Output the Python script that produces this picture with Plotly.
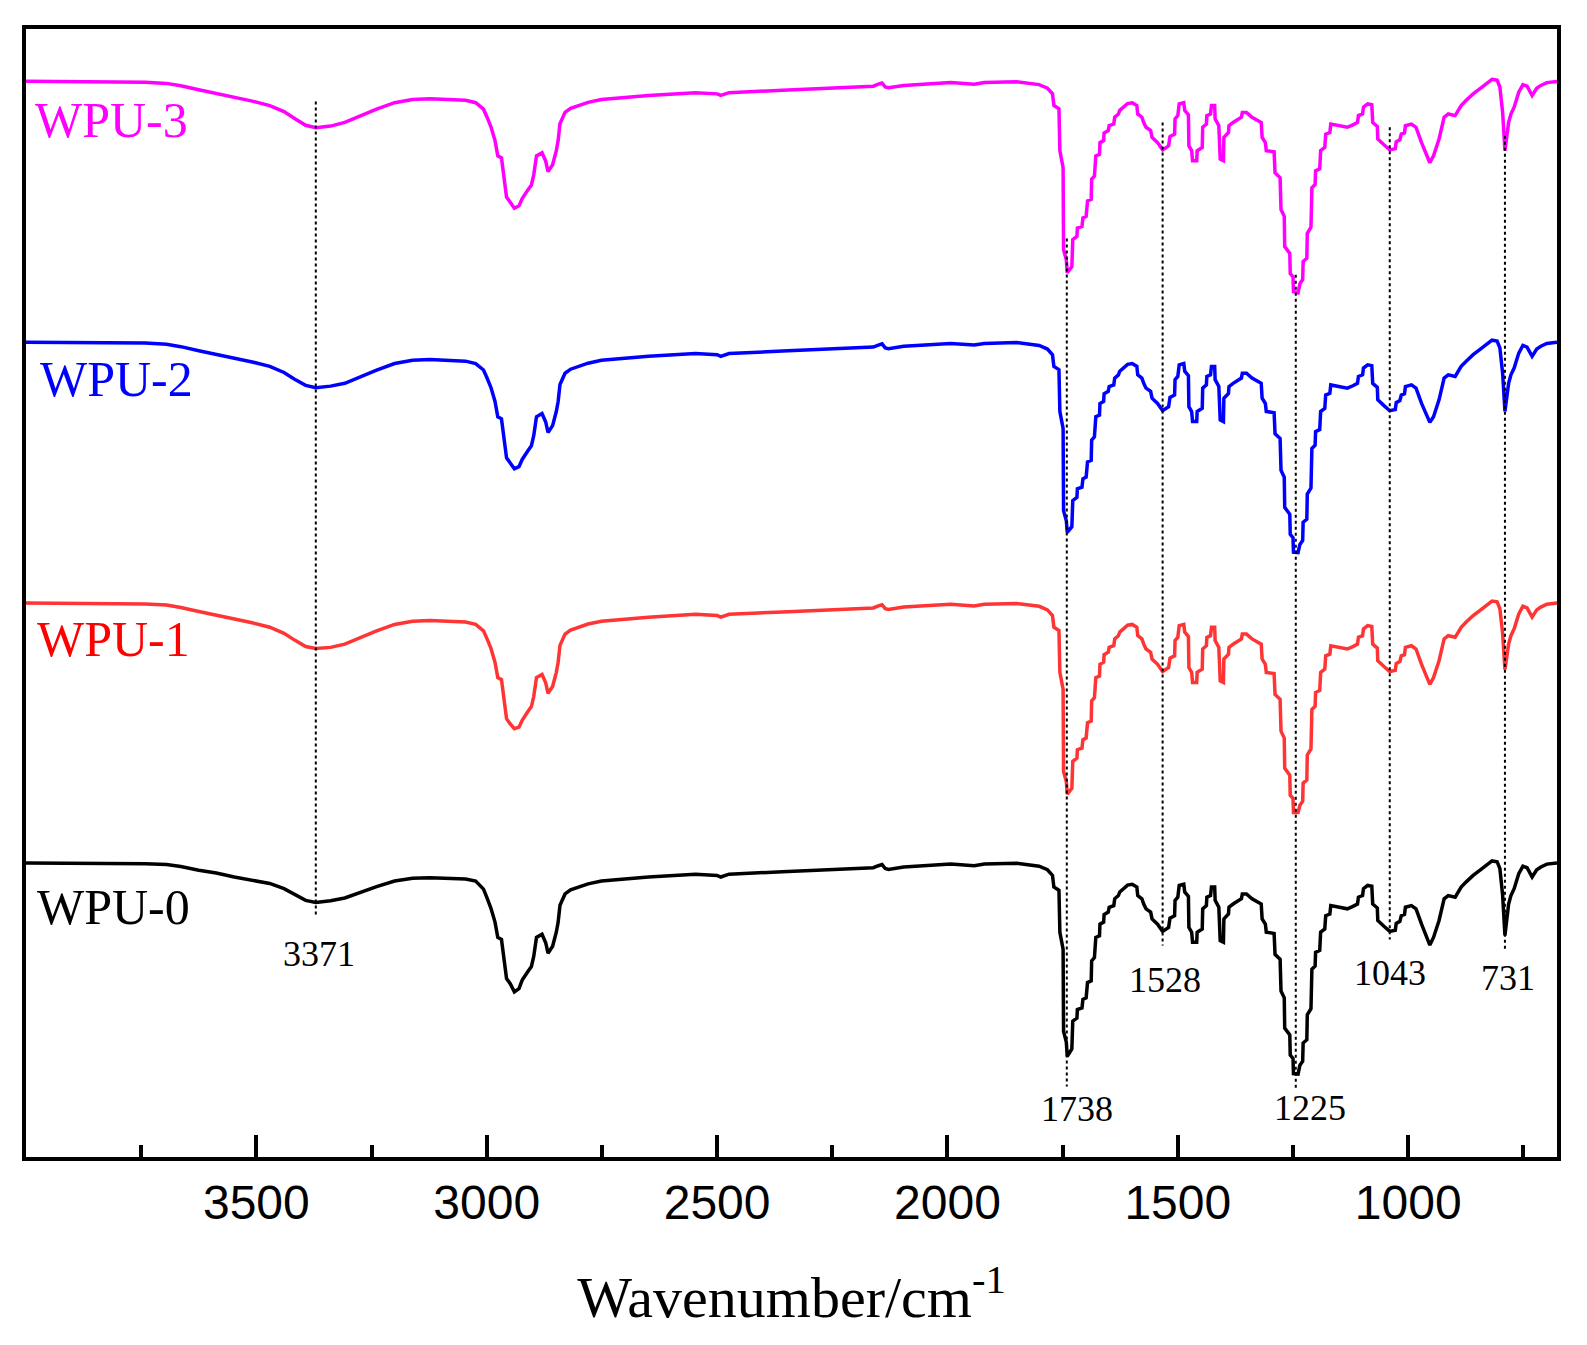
import plotly.graph_objects as go

# wavenumber grid (cm-1), shared by all four spectra
wavenumber = [
    4000, 3896, 3803, 3741, 3695, 3664, 3625, 3587, 3548, 3509,
    3471, 3440, 3417, 3393, 3371, 3339, 3308, 3277, 3239, 3200,
    3161, 3123, 3084, 3046, 3024, 3007, 3000, 2991, 2982, 2976,
    2968, 2962, 2957, 2949, 2940, 2930, 2923, 2911, 2903, 2898,
    2892, 2880, 2872, 2867, 2857, 2849, 2845, 2841, 2830, 2818,
    2800, 2780, 2751, 2649, 2547, 2500, 2492, 2474, 2358, 2226,
    2161, 2150, 2142, 2135, 2128, 2095, 1993, 1942, 1920, 1850,
    1801, 1783, 1772, 1769, 1758, 1756, 1749, 1748, 1742, 1740,
    1730, 1728, 1719, 1718, 1708, 1706, 1699, 1696, 1688, 1687,
    1681, 1678, 1670, 1669, 1661, 1660, 1651, 1649, 1639, 1637,
    1629, 1626, 1619, 1609, 1599, 1589, 1587, 1578, 1574, 1569,
    1559, 1556, 1544, 1533, 1520, 1517, 1507, 1506, 1500, 1497,
    1487, 1485, 1477, 1476, 1470, 1468, 1459, 1458, 1447, 1446,
    1438, 1437, 1429, 1427, 1420, 1419, 1411, 1408, 1401, 1400,
    1390, 1389, 1380, 1362, 1360, 1351, 1339, 1328, 1319, 1317,
    1310, 1308, 1291, 1289, 1278, 1276, 1269, 1268, 1257, 1256,
    1250, 1249, 1239, 1235, 1229, 1228, 1220, 1219, 1211, 1209,
    1202, 1201, 1192, 1190, 1181, 1179, 1170, 1168, 1159, 1146,
    1132, 1120, 1110, 1108, 1099, 1097, 1088, 1079, 1077, 1067,
    1066, 1052, 1040, 1028, 1026, 1018, 1015, 1008, 1006, 993,
    983, 971, 953, 945, 933, 922, 913, 898, 885, 874,
    859, 844, 833, 818, 807, 801, 795, 790, 782, 777,
    770, 760, 751, 742, 731, 721, 712, 699, 677,
]

# transmittance (a.u.)
t_wpu3 = [
    100.0, 100.0, 99.9, 99.8, 99.5, 98.9, 97.9, 97.0, 95.9, 95.1,
    94.0, 92.5, 90.8, 89.1, 88.5, 88.9, 89.8, 91.3, 93.1, 94.7,
    95.5, 95.7, 95.5, 95.3, 94.7, 93.1, 91.3, 88.8, 85.3, 81.5,
    81.0, 76.0, 71.3, 70.0, 68.5, 69.1, 70.9, 73.0, 74.3, 76.8,
    81.5, 82.3, 80.2, 77.6, 79.3, 82.8, 85.3, 89.5, 92.3, 93.3,
    94.0, 94.8, 95.5, 96.5, 97.2, 96.9, 96.5, 97.2, 97.8, 98.4,
    98.8, 99.3, 99.6, 98.6, 98.4, 99.0, 99.7, 99.3, 99.7, 99.9,
    99.2, 98.3, 96.9, 94.0, 93.2, 82.8, 78.6, 58.2, 55.7, 52.5,
    54.0, 60.7, 61.5, 63.6, 64.0, 66.1, 66.5, 70.3, 70.7, 75.7,
    76.5, 81.5, 81.9, 84.8, 85.3, 87.2, 87.8, 89.0, 89.4, 91.1,
    91.9, 92.8, 93.6, 94.5, 94.7, 94.0, 91.9, 91.1, 89.8, 88.6,
    87.8, 86.1, 84.8, 83.0, 84.0, 86.3, 86.9, 90.7, 91.5, 94.4,
    94.7, 92.8, 91.7, 84.0, 82.8, 80.3, 80.3, 82.8, 83.6, 88.6,
    89.4, 91.5, 91.9, 94.0, 94.0, 90.7, 89.0, 80.7, 80.3, 86.1,
    87.3, 89.0, 89.8, 91.1, 92.3, 92.3, 91.1, 90.3, 89.8, 86.1,
    84.8, 82.8, 82.5, 77.3, 76.1, 68.2, 66.5, 59.0, 57.3, 52.3,
    51.5, 47.8, 47.5, 49.8, 50.8, 55.3, 56.1, 62.3, 63.8, 73.6,
    74.4, 77.8, 78.3, 82.8, 83.6, 86.9, 87.3, 89.4, 89.2, 88.8,
    88.6, 89.2, 89.8, 91.5, 91.9, 93.6, 94.4, 94.2, 89.8, 88.8,
    85.7, 84.2, 83.0, 83.3, 85.0, 85.5, 86.9, 87.2, 89.0, 89.4,
    88.6, 84.8, 79.8, 81.5, 85.7, 91.1, 91.9, 91.5, 94.0, 95.3,
    96.9, 98.2, 99.2, 100.5, 100.3, 98.6, 92.3, 82.8, 89.8, 91.9,
    93.6, 97.3, 99.2, 98.8, 96.5, 98.3, 99.0, 99.7, 100.0,
]

t_wpu2 = [
    100.0, 100.0, 99.9, 99.8, 99.5, 98.9, 97.9, 97.0, 95.9, 95.1,
    94.0, 92.5, 90.8, 89.3, 88.7, 89.1, 89.8, 91.3, 93.1, 94.7,
    95.5, 95.7, 95.5, 95.3, 94.7, 93.1, 91.3, 88.8, 85.3, 81.5,
    81.0, 76.0, 71.3, 70.0, 68.6, 69.1, 70.9, 73.0, 74.3, 76.8,
    81.5, 82.3, 80.2, 77.6, 79.3, 82.8, 85.3, 89.5, 92.3, 93.3,
    94.0, 94.8, 95.5, 96.5, 97.2, 96.9, 96.5, 97.2, 97.8, 98.4,
    98.8, 99.3, 99.6, 98.6, 98.4, 99.0, 99.7, 99.3, 99.7, 99.9,
    99.2, 98.3, 96.9, 94.0, 93.2, 82.8, 78.6, 58.2, 55.7, 52.8,
    54.2, 60.7, 61.5, 63.6, 64.0, 66.1, 66.5, 70.3, 70.7, 75.7,
    76.5, 81.5, 81.9, 84.8, 85.3, 87.2, 87.8, 89.0, 89.4, 91.1,
    91.9, 92.8, 93.6, 94.5, 94.7, 94.0, 91.9, 91.1, 89.8, 88.6,
    87.8, 86.1, 84.8, 83.0, 84.0, 86.3, 86.9, 90.7, 91.5, 94.4,
    94.7, 92.8, 91.7, 84.0, 82.8, 80.3, 80.3, 82.8, 83.6, 88.6,
    89.4, 91.5, 91.9, 94.0, 94.0, 90.7, 89.0, 80.7, 80.3, 86.1,
    87.3, 89.0, 89.8, 91.1, 92.3, 92.3, 91.1, 90.3, 89.8, 86.1,
    84.8, 82.8, 82.5, 77.3, 76.1, 68.2, 66.5, 59.0, 57.3, 52.3,
    51.5, 47.9, 47.8, 49.8, 50.8, 55.3, 56.1, 62.3, 63.8, 73.6,
    74.4, 77.8, 78.3, 82.8, 83.6, 86.9, 87.3, 89.4, 89.2, 88.8,
    88.6, 89.2, 89.8, 91.5, 91.9, 93.6, 94.4, 94.2, 89.8, 88.8,
    85.7, 84.2, 83.0, 83.3, 85.0, 85.5, 86.9, 87.2, 89.0, 89.4,
    88.6, 84.8, 80.1, 81.5, 85.7, 91.1, 91.9, 91.5, 94.0, 95.3,
    96.9, 98.2, 99.2, 100.5, 100.3, 98.6, 92.3, 82.8, 89.8, 91.9,
    93.6, 97.3, 99.2, 98.8, 96.5, 98.3, 99.0, 99.7, 100.0,
]

t_wpu1 = [
    100.0, 100.0, 99.9, 99.8, 99.5, 98.9, 97.9, 97.0, 95.9, 95.1,
    94.0, 92.5, 90.8, 89.2, 88.7, 89.0, 89.8, 91.3, 93.1, 94.7,
    95.5, 95.7, 95.5, 95.3, 94.7, 93.1, 91.3, 88.8, 85.3, 81.5,
    81.0, 76.0, 71.3, 70.0, 68.8, 69.2, 70.9, 73.0, 74.3, 76.8,
    81.5, 82.3, 80.2, 77.6, 79.3, 82.8, 85.3, 89.5, 92.3, 93.3,
    94.0, 94.8, 95.5, 96.5, 97.2, 96.9, 96.5, 97.2, 97.8, 98.4,
    98.8, 99.3, 99.6, 98.6, 98.4, 99.0, 99.7, 99.3, 99.7, 99.9,
    99.2, 98.3, 96.9, 94.0, 93.2, 82.8, 78.6, 58.2, 55.7, 52.6,
    54.0, 60.7, 61.5, 63.6, 64.0, 66.1, 66.5, 70.3, 70.7, 75.7,
    76.5, 81.5, 81.9, 84.8, 85.3, 87.2, 87.8, 89.0, 89.4, 91.1,
    91.9, 92.8, 93.6, 94.5, 94.7, 94.0, 91.9, 91.1, 89.8, 88.6,
    87.8, 86.1, 84.8, 83.0, 84.0, 86.3, 86.9, 90.7, 91.5, 94.4,
    94.7, 92.8, 91.7, 84.0, 82.8, 80.3, 80.3, 82.8, 83.6, 88.6,
    89.4, 91.5, 91.9, 94.0, 94.0, 90.7, 89.0, 80.7, 80.3, 86.1,
    87.3, 89.0, 89.8, 91.1, 92.3, 92.3, 91.1, 90.3, 89.8, 86.1,
    84.8, 82.8, 82.5, 77.3, 76.1, 68.2, 66.5, 59.0, 57.3, 52.3,
    51.5, 48.0, 48.0, 49.8, 50.8, 55.3, 56.1, 62.3, 63.8, 73.6,
    74.4, 77.8, 78.3, 82.8, 83.6, 86.9, 87.3, 89.4, 89.2, 88.8,
    88.6, 89.2, 89.8, 91.5, 91.9, 93.6, 94.4, 94.2, 89.8, 88.8,
    85.7, 84.2, 83.0, 83.3, 85.0, 85.5, 86.9, 87.2, 89.0, 89.4,
    88.6, 84.8, 79.8, 81.5, 85.7, 91.1, 91.9, 91.5, 94.0, 95.3,
    96.9, 98.2, 99.2, 100.5, 100.3, 98.6, 92.5, 83.5, 89.8, 91.9,
    93.6, 97.3, 99.2, 98.8, 96.5, 98.3, 99.0, 99.7, 100.0,
]

t_wpu0 = [
    100.0, 100.0, 99.9, 99.8, 99.6, 99.1, 98.2, 97.5, 96.5, 95.8,
    94.9, 93.6, 92.2, 90.7, 90.2, 90.6, 91.3, 92.6, 94.1, 95.5,
    96.2, 96.3, 96.2, 96.0, 95.5, 93.5, 91.5, 88.8, 85.3, 81.5,
    81.0, 76.0, 71.3, 70.0, 68.0, 68.8, 70.9, 73.0, 74.3, 76.8,
    81.5, 82.3, 80.2, 77.6, 79.3, 82.8, 85.3, 89.5, 92.3, 93.3,
    94.0, 94.8, 95.5, 96.5, 97.2, 96.9, 96.5, 97.2, 97.8, 98.4,
    98.8, 99.3, 99.6, 98.6, 98.4, 99.0, 99.7, 99.3, 99.7, 99.9,
    99.2, 98.3, 96.9, 94.0, 93.2, 82.8, 78.6, 58.2, 55.5, 52.0,
    53.8, 60.7, 61.5, 63.6, 64.0, 66.1, 66.5, 70.3, 70.7, 75.7,
    76.5, 81.5, 81.9, 84.8, 85.3, 87.2, 87.8, 89.0, 89.4, 91.1,
    91.9, 92.8, 93.6, 94.5, 94.7, 94.0, 91.9, 91.1, 89.8, 88.6,
    87.8, 86.1, 84.8, 83.0, 84.0, 86.3, 86.9, 90.7, 91.5, 94.4,
    94.7, 92.8, 91.7, 84.0, 82.8, 80.3, 80.3, 82.8, 83.6, 88.6,
    89.4, 91.5, 91.9, 94.0, 94.0, 90.7, 89.0, 80.7, 80.3, 86.1,
    87.3, 89.0, 89.8, 91.1, 92.3, 92.3, 91.1, 90.3, 89.8, 86.1,
    84.8, 82.8, 82.5, 77.3, 76.1, 68.2, 66.5, 59.0, 57.3, 52.3,
    51.5, 47.7, 47.6, 49.8, 50.8, 55.3, 56.1, 62.3, 63.8, 73.6,
    74.4, 77.8, 78.3, 82.8, 83.6, 86.9, 87.3, 89.4, 89.2, 88.8,
    88.6, 89.2, 89.8, 91.5, 91.9, 93.6, 94.4, 94.2, 89.8, 88.8,
    85.7, 84.2, 83.0, 83.3, 85.0, 85.5, 86.9, 87.2, 89.0, 89.4,
    88.6, 84.8, 79.6, 81.5, 85.7, 91.1, 91.9, 91.5, 94.0, 95.3,
    96.9, 98.2, 99.2, 100.5, 100.3, 98.6, 92.0, 82.0, 89.8, 91.9,
    93.6, 97.3, 99.2, 98.8, 96.5, 98.3, 99.0, 99.7, 100.0,
]

samples = ["WPU-0", "WPU-1", "WPU-2", "WPU-3"]
spectra = [t_wpu0, t_wpu1, t_wpu2, t_wpu3]

# marked bands: label text and where the dotted guide sits
band_labels = ["3371", "1738", "1528", "1225", "1043", "731"]
band_lines = [3371, 1741, 1533, 1244, 1040, 790]

# ---- layout / style (not data) ----
line_colors = ["#000000", "#FF3434", "#0000FF", "#FF00FF"]
text_colors = ["#000000", "#FF0000", "#0000FF", "#FF00FF"]
offsets = [-194.0, -129.5, -64.75, 0.0]      # vertical stacking
name_pos = [(3980, -105.0), (3980, -38.5), (3975, 26.0), (3984, 90.5)]
guide_top = [95.0, 61.0, 89.8, 52.0, 88.6, 86.5]
guide_bot = [-107.0, -149.5, -114.5, -150.5, -113.0, -115.5]
label_pos = [(3364, -116.5), (1719, -155.0), (1527, -123.0),
             (1214, -154.8), (1039, -121.3), (783, -122.5)]

SERIF = "Liberation Serif, Times New Roman, serif"
SANS = "Liberation Sans, Arial, sans-serif"

fig = go.Figure()

for name, t, off, c in zip(samples, spectra, offsets, line_colors):
    fig.add_trace(go.Scatter(
        x=wavenumber, y=[v + off for v in t], mode="lines",
        line=dict(color=c, width=3.5), name=name, showlegend=False,
    ))

for w, y0, y1 in zip(band_lines, guide_top, guide_bot):
    fig.add_shape(type="line", xref="x", yref="y", x0=w, x1=w, y0=y0, y1=y1,
                  line=dict(color="black", width=2, dash="dot"))

for name, (px, py), c in zip(samples, name_pos, text_colors):
    fig.add_annotation(x=px, y=py, text=name, showarrow=False,
                       xanchor="left", yanchor="middle",
                       font=dict(family=SERIF, size=50, color=c))

for txt, (px, py) in zip(band_labels, label_pos):
    fig.add_annotation(x=px, y=py, text=txt, showarrow=False,
                       xanchor="center", yanchor="middle",
                       font=dict(family=SERIF, size=36, color="black"))

fig.update_xaxes(
    range=[4000, 677],
    tickvals=[3500, 3000, 2500, 2000, 1500, 1000],
    ticks="inside", ticklen=22, tickwidth=3.5, tickcolor="black",
    minor=dict(tickvals=[3750, 3250, 2750, 2250, 1750, 1250, 750],
               ticks="inside", ticklen=12, tickwidth=3.5, tickcolor="black"),
    showline=True, linewidth=4, linecolor="black", mirror=True,
    showgrid=False, zeroline=False,
    tickfont=dict(family=SANS, size=48, color="black"),
    title=dict(text="Wavenumber/cm<sup>-1</sup>", standoff=50,
               font=dict(family=SERIF, size=58, color="black")),
)
fig.update_yaxes(
    range=[-167, 113], showticklabels=False, ticks="",
    showline=True, linewidth=4, linecolor="black", mirror=True,
    showgrid=False, zeroline=False,
)

fig.update_layout(
    width=1587, height=1345,
    paper_bgcolor="white", plot_bgcolor="white",
    margin=dict(l=18, r=38, t=21, b=196),
)

fig.write_html("out.html")
